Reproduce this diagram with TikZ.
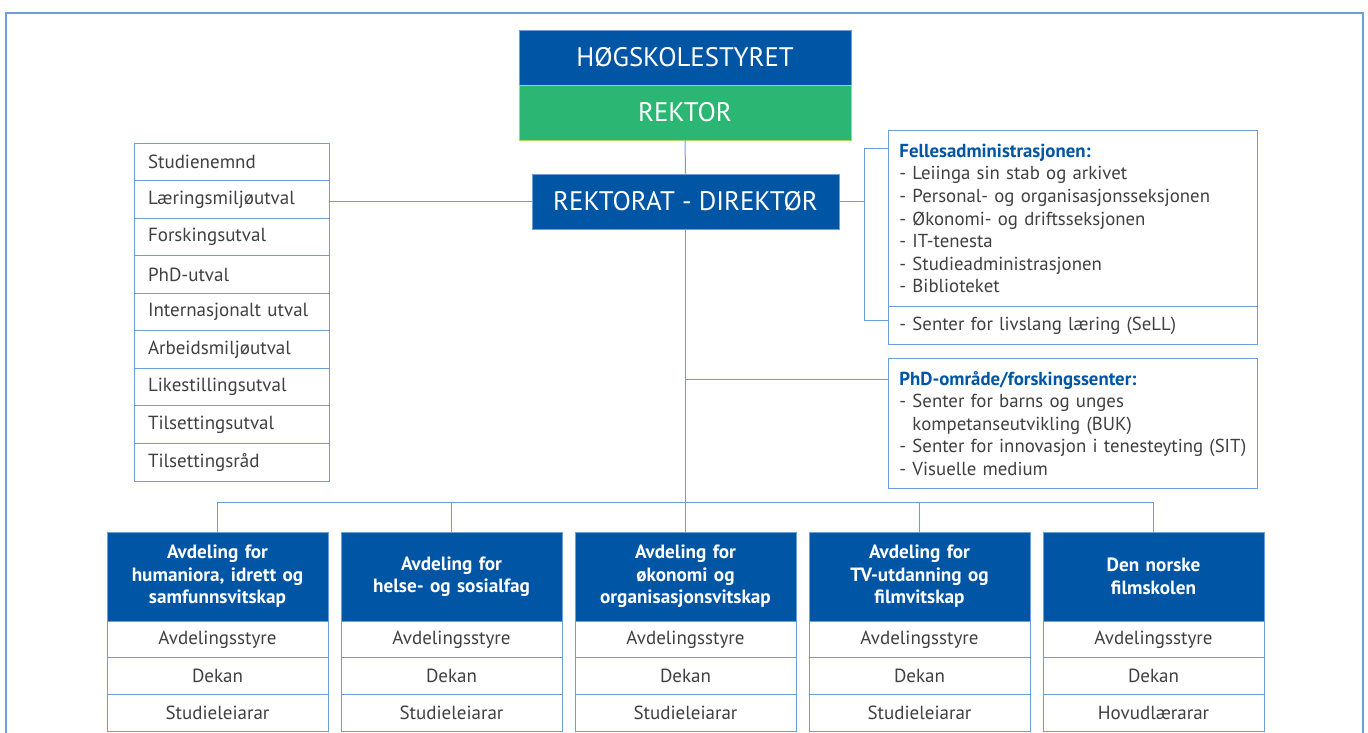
\documentclass[tikz,border=0pt]{standalone}
\usepackage{fontspec}
\setmainfont{PT Sans}
\usepackage{tikz}

\definecolor{hvlblue}{HTML}{0055A4}
\definecolor{hvlgreen}{HTML}{2BB673}
\definecolor{greenedge}{HTML}{A6D96A}
\definecolor{hvlline}{HTML}{6A9FD8}
\definecolor{hvltext}{HTML}{404040}

\tikzset{
	boxline/.style={draw=hvlline, line width=0.9pt},
	topbox/.style={boxline, fill=hvlblue, text=white, minimum width=332pt, minimum height=55pt, inner sep=0pt, font=\fontsize{26.8}{30}\selectfont},
	listrow/.style={boxline, fill=white, text=hvltext, minimum width=195pt, minimum height=37.55pt, text width=167pt, align=left, inner xsep=14pt, inner ysep=0pt, font=\fontsize{19}{22}\selectfont},
	infobox/.style={boxline, fill=white, text=hvltext, anchor=north west, minimum width=369pt, text width=347pt, align=left, inner xsep=11pt, inner ysep=0pt, font=\fontsize{18.8}{22.6}\selectfont},
	deptbox/.style={boxline, fill=hvlblue, text=white, minimum width=221pt, minimum height=89pt, text width=209pt, align=center, inner xsep=6pt, inner ysep=0pt, font=\bfseries\fontsize{19.2}{22.5}\selectfont},
	deptrow/.style={boxline, fill=white, text=hvltext, minimum width=221pt, minimum height=36.7pt, inner sep=0pt, font=\fontsize{19}{22}\selectfont},
	link/.style={hvlline, line width=1pt}
}

\newcommand{\infotitle}[1]{\textcolor{hvlblue}{\bfseries #1}}

\begin{document}
\begin{tikzpicture}[x=1pt, y=-1pt]
	\useasboundingbox (0,0) rectangle (1368,733);
	\draw[hvlline, line width=1.5pt] (6,13) rectangle (1363,760);

	% board, rector, rectorate
	\node[topbox] (styret) at (685,57.5) {HØGSKOLESTYRET};
	\node[topbox, fill=hvlgreen, draw=greenedge] (rektor) at (685,112.5) {REKTOR};
	\node[topbox, minimum width=307pt] (rektorat) at (685.5,201.5) {REKTORAT - DIREKTØR};

	% committees
	\node[listrow] (utv1) at (231.5,161.8) {Studienemnd};
	\node[listrow] (utv2) at (231.5,199.3) {Læringsmiljøutval};
	\node[listrow] (utv3) at (231.5,236.9) {Forskingsutval};
	\node[listrow] (utv4) at (231.5,274.4) {PhD-utval};
	\node[listrow] (utv5) at (231.5,312.0) {Internasjonalt utval};
	\node[listrow] (utv6) at (231.5,349.5) {Arbeidsmiljøutval};
	\node[listrow] (utv7) at (231.5,387.1) {Likestillingsutval};
	\node[listrow] (utv8) at (231.5,424.6) {Tilsettingsutval};
	\node[listrow] (utv9) at (231.5,462.2) {Tilsettingsråd};

	% administration
	\node[infobox, minimum height=176pt] (felles) at (888,130) {\infotitle{Fellesadministrasjonen:}\\
		- Leiinga sin stab og arkivet\\
		- Personal- og organisasjonsseksjonen\\
		- Økonomi- og driftsseksjonen\\
		- IT-tenesta\\
		- Studieadministrasjonen\\
		- Biblioteket};
	\node[infobox, minimum height=38pt] (sell) at (888,306) {- Senter for livslang læring (SeLL)};
	\node[infobox, minimum height=130pt] (phd) at (888,358) {\infotitle{PhD-område/forskingssenter:}\\
		- Senter for barns og unges\\
		\phantom{- }kompetanseutvikling (BUK)\\
		- Senter for innovasjon i tenesteyting (SIT)\\
		- Visuelle medium};

	% departments
	\node[deptbox] (hum) at (217.5,576.5) {Avdeling for\\humaniora, idrett og\\samfunnsvitskap};
	\node[deptrow] (humstyre) at (217.5,639.3) {Avdelingsstyre};
	\node[deptrow] (humdekan) at (217.5,676) {Dekan};
	\node[deptrow] (humleiar) at (217.5,712.7) {Studieleiarar};

	\node[deptbox] (helse) at (451.5,576.5) {Avdeling for\\helse- og sosialfag};
	\node[deptrow] (helsestyre) at (451.5,639.3) {Avdelingsstyre};
	\node[deptrow] (helsedekan) at (451.5,676) {Dekan};
	\node[deptrow] (helseleiar) at (451.5,712.7) {Studieleiarar};

	\node[deptbox] (oko) at (685.5,576.5) {Avdeling for\\økonomi og\\organisasjonsvitskap};
	\node[deptrow] (okostyre) at (685.5,639.3) {Avdelingsstyre};
	\node[deptrow] (okodekan) at (685.5,676) {Dekan};
	\node[deptrow] (okoleiar) at (685.5,712.7) {Studieleiarar};

	\node[deptbox] (tv) at (919.5,576.5) {Avdeling for\\TV-utdanning og\\filmvitskap};
	\node[deptrow] (tvstyre) at (919.5,639.3) {Avdelingsstyre};
	\node[deptrow] (tvdekan) at (919.5,676) {Dekan};
	\node[deptrow] (tvleiar) at (919.5,712.7) {Studieleiarar};

	\node[deptbox] (film) at (1153.5,576.5) {Den norske\\filmskolen};
	\node[deptrow] (filmstyre) at (1153.5,639.3) {Avdelingsstyre};
	\node[deptrow] (filmdekan) at (1153.5,676) {Dekan};
	\node[deptrow] (filmleiar) at (1153.5,712.7) {Hovudlærarar};

	% connectors
	\coordinate (fa) at (864,149);
	\coordinate (fb) at (864,320);
	\coordinate (phdtap) at (685.5,379);
	\coordinate (bus) at (685.5,502);

	\draw[link] (rektor.south) -- (rektorat.north);
	\draw[link] (rektorat.west) -- (utv2.east |- rektorat.west);
	\draw[link] (rektorat.east) -- (fa |- rektorat.east);
	\draw[link] (felles.west |- fa) -- (fa) -- (fb) -- (sell.west |- fb);
	\draw[link] (rektorat.south) -- (bus);
	\draw[link] (phdtap) -- (phdtap -| phd.west);
	\draw[link] (hum.north) -- (hum.north |- bus) -- (film.north |- bus) -- (film.north);
	\draw[link] (helse.north) -- (helse.north |- bus);
	\draw[link] (oko.north) -- (bus);
	\draw[link] (tv.north) -- (tv.north |- bus);
\end{tikzpicture}
\end{document}
